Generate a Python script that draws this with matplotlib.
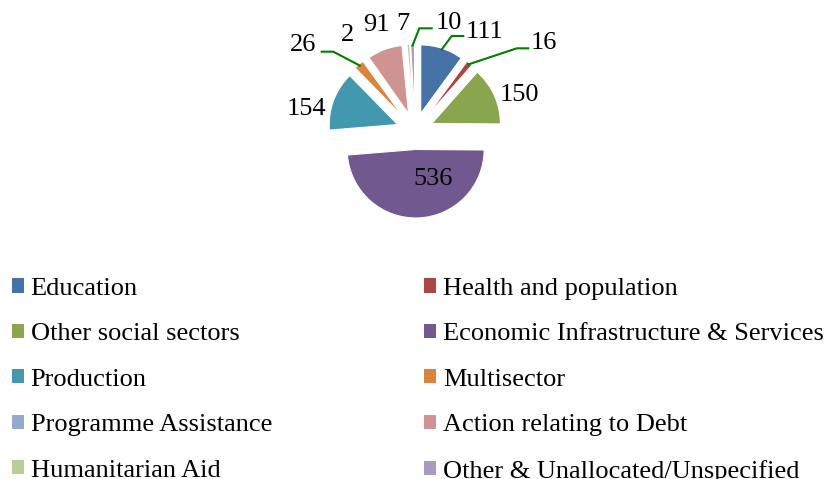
import matplotlib
matplotlib.use("Agg")
import matplotlib.pyplot as plt
from matplotlib.patches import Patch
import numpy as np

categories = ["Education", "Health and population", "Other social sectors",
              "Economic Infrastructure & Services", "Production", "Multisector",
              "Programme Assistance", "Action relating to Debt",
              "Humanitarian Aid", "Other & Unallocated/Unspecified"]
values = [111, 16, 150, 536, 154, 26, 2, 91, 7, 10]
colors = ["#4572A7", "#AA4643", "#89A54E", "#71588F", "#4198AF",
          "#DB843D", "#93A9CF", "#D19392", "#B9CD96", "#A99BBD"]

# label positions (data coords, pie radius = 1)
label_pos = [(1.02, 1.45), (1.88, 1.28), (1.52, 0.53), (0.26, -0.70),
             (-1.59, 0.32), (-1.64, 1.26), (-0.99, 1.40), (-0.57, 1.55),
             (-0.18, 1.56), (0.49, 1.58)]
# leader lines: index -> (elbow, end)
leaders = {0: ((0.536, 1.387), (0.705, 1.387)),
           1: ((1.485, 1.207), (1.654, 1.207)),
           9: ((0.063, 1.499), (0.244, 1.499)),
           5: ((-1.193, 1.158), (-1.362, 1.158))}

plt.rcParams['font.family'] = ['Liberation Serif', 'DejaVu Serif']

W, H = 830, 479
fig = plt.figure(figsize=(W / 100, H / 100), dpi=100)

cx, cy, r = 415, 131, 68.5
half = 1.5 * r
ax = fig.add_axes([(cx - half) / W, (H - cy - half) / H, 2 * half / W, 2 * half / H])

explode = [0.27] * len(values)
wedges, _ = ax.pie(values, colors=colors, startangle=90, counterclock=False,
                   explode=explode, radius=1,
                   wedgeprops=dict(edgecolor='white', linewidth=0.8))
ax.set_xlim(-1.5, 1.5)
ax.set_ylim(-1.5, 1.5)
ax.set_aspect('equal')
ax.axis('off')

for i, w in enumerate(wedges):
    ax.text(label_pos[i][0], label_pos[i][1], str(values[i]), ha='center', va='center',
            fontsize=19, color='black')
    if i in leaders:
        ang = np.deg2rad((w.theta1 + w.theta2) / 2)
        ccx, ccy = w.center
        sx, sy = ccx + 0.98 * np.cos(ang), ccy + 0.98 * np.sin(ang)
        (ex, ey), (tx, ty) = leaders[i]
        ax.plot([sx, ex, tx], [sy, ey, ty], color='#008000', lw=1.5,
                clip_on=False, solid_joinstyle='miter')

order = [0, 2, 4, 6, 8, 1, 3, 5, 7, 9]
handles = [Patch(facecolor=colors[i], edgecolor='none') for i in order]
labels = [categories[i] for i in order]
fig.legend(handles, labels, loc='upper left', bbox_to_anchor=(0.0146, 0.42),
           ncol=2, frameon=False, fontsize=19, handlelength=0.45,
           handleheight=0.45, handletextpad=0.25, labelspacing=0.89,
           columnspacing=5.78, borderaxespad=0, borderpad=0)

fig.savefig("out.png", dpi=100)
